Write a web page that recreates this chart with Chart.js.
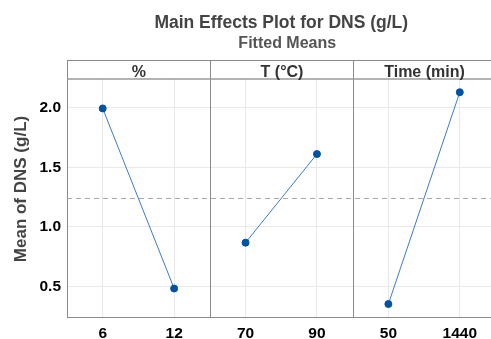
<!DOCTYPE html>
<html>
<head>
<meta charset="utf-8">
<script src="https://cdn.jsdelivr.net/npm/chart.js@4"></script>
<style>
  html, body { margin: 0; padding: 0; background: #fff; overflow: hidden; }
  #wrap { width: 491px; height: 339px; overflow: hidden; position: relative; }
  canvas { display: block; }
</style>
</head>
<body>
<div id="wrap"><canvas id="c" width="500" height="339" style="width:500px;height:339px"></canvas></div>
<script>
// ---- Data ----
const chartTitle = 'Main Effects Plot for DNS (g/L)';
const chartSubtitle = 'Fitted Means';
const yAxisTitle = 'Mean of DNS (g/L)';
const factors = ['%', 'T (°C)', 'Time (min)'];
const categories = ['6', '12', '70', '90', '50', '1440'];
const pctLevels = ['6', '12'];
const pctMeans = [1.995, 0.483];
const tempLevels = ['70', '90'];
const tempMeans = [0.868, 1.612];
const timeLevels = ['50', '1440'];
const timeMeans = [0.353, 2.131];
const overallMean = 1.242;
const yTicks = [0.5, 1.0, 1.5, 2.0];

const FONT = '"Liberation Sans", Arial, sans-serif';
const LINE_COLOR = '#3b7cc6';
const POINT_COLOR = '#0052a3';
const AXIS_COLOR = '#8a8a8a';
const GRID_COLOR = '#e9e9e9';

function mk(levels, means) {
  return {
    data: levels.map((l, i) => ({ x: l, y: means[i] })),
    borderColor: LINE_COLOR,
    borderWidth: 1,
    pointBackgroundColor: POINT_COLOR,
    pointBorderColor: POINT_COLOR,
    pointRadius: 3.5,
    pointHoverRadius: 3.5,
    tension: 0,
    fill: false
  };
}

const decor = {
  id: 'decor',
  beforeDatasetsDraw(chart) {
    const { ctx, chartArea: a, scales: { x, y } } = chart;
    ctx.save();
    // mean reference line
    const ym = Math.round(y.getPixelForValue(overallMean)) + 0.5;
    ctx.strokeStyle = '#aaaaaa';
    ctx.lineWidth = 1;
    ctx.setLineDash([5, 4]);
    ctx.beginPath();
    ctx.moveTo(a.left, ym);
    ctx.lineTo(a.right, ym);
    ctx.stroke();
    ctx.setLineDash([]);
    ctx.restore();
  },
  afterDraw(chart) {
    const { ctx, chartArea: a, scales: { x, y } } = chart;
    ctx.save();
    const headTop = 60.5;
    const headBot = a.top;
    // panel dividers (through header)
    ctx.strokeStyle = AXIS_COLOR;
    ctx.lineWidth = 1;
    const divs = [];
    for (let p = 1; p < factors.length; p++) {
      const xd = Math.round((x.getPixelForValue(2 * p - 1) + x.getPixelForValue(2 * p)) / 2) + 0.5;
      divs.push(xd);
      ctx.beginPath();
      ctx.moveTo(xd, headTop);
      ctx.lineTo(xd, a.bottom);
      ctx.stroke();
    }
    // header borders
    ctx.beginPath();
    ctx.moveTo(a.left, headTop);
    ctx.lineTo(a.right, headTop);
    ctx.stroke();
    ctx.beginPath();
    ctx.moveTo(Math.round(a.left) + 0.5, headTop);
    ctx.lineTo(Math.round(a.left) + 0.5, headBot);
    ctx.stroke();
    ctx.strokeStyle = '#9a9a9a';
    ctx.lineWidth = 1.5;
    ctx.beginPath();
    ctx.moveTo(a.left, headBot);
    ctx.lineTo(a.right, headBot);
    ctx.stroke();
    // header labels
    ctx.fillStyle = '#333333';
    ctx.font = 'bold 16px ' + FONT;
    ctx.textAlign = 'center';
    ctx.textBaseline = 'alphabetic';
    const edges = [a.left, ...divs, a.right];
    factors.forEach((f, i) => {
      ctx.fillText(f, (edges[i] + edges[i + 1]) / 2, 77);
    });
    // titles
    const cx = (a.left + a.right) / 2;
    ctx.fillStyle = '#444444';
    ctx.font = 'bold 17.5px ' + FONT;
    ctx.fillText(chartTitle, cx, 28);
    ctx.fillStyle = '#555555';
    ctx.font = 'bold 16px ' + FONT;
    ctx.fillText(chartSubtitle, cx + 6, 48);
    // y axis title
    ctx.translate(26, 189);
    ctx.rotate(-Math.PI / 2);
    ctx.fillStyle = '#444444';
    ctx.font = 'bold 17px ' + FONT;
    ctx.fillText(yAxisTitle, 0, 0);
    ctx.restore();
  }
};

new Chart(document.getElementById('c'), {
  type: 'line',
  data: {
    labels: categories,
    datasets: [mk(pctLevels, pctMeans), mk(tempLevels, tempMeans), mk(timeLevels, timeMeans)]
  },
  options: {
    responsive: false,
    animation: false,
    devicePixelRatio: 1,
    layout: { padding: { top: 79, left: 0, right: 1, bottom: 0 } },
    plugins: { legend: { display: false }, tooltip: { enabled: false }, title: { display: false } },
    scales: {
      x: {
        type: 'category',
        offset: true,
        grid: { color: GRID_COLOR, drawTicks: false, offset: false },
        border: { color: AXIS_COLOR, width: 1 },
        ticks: { color: '#000', font: { family: FONT, size: 15.5, weight: 'bold' }, padding: 7, autoSkip: false, maxRotation: 0 },
        afterFit(s) { s.height = 22; }
      },
      y: {
        min: 0.244,
        max: 2.242,
        grid: { color: GRID_COLOR, drawTicks: false },
        border: { color: AXIS_COLOR, width: 1 },
        afterBuildTicks(s) { s.ticks = yTicks.map(v => ({ value: v })); },
        ticks: { color: '#000', font: { family: FONT, size: 15.5, weight: 'bold' }, padding: 6, callback: v => Number(v).toFixed(1) },
        afterFit(s) { s.width = 67; }
      }
    }
  },
  plugins: [decor]
});
</script>
</body>
</html>
